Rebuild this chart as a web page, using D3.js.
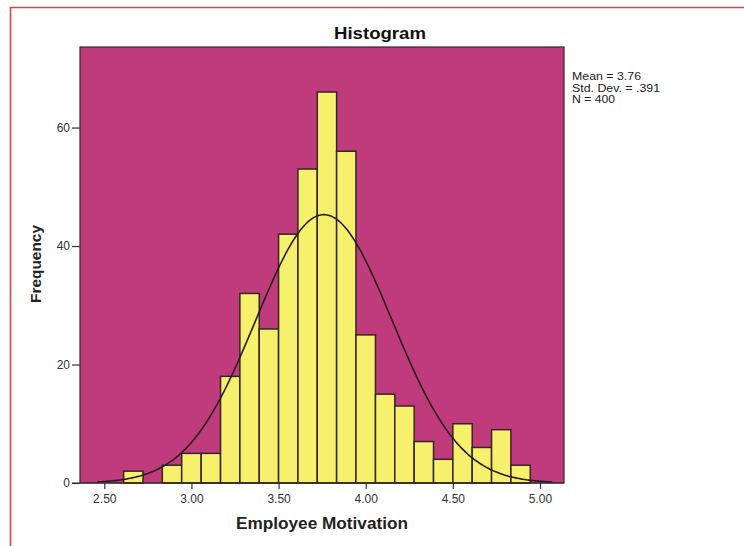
<!DOCTYPE html>
<html>
<head>
<meta charset="utf-8">
<script src="https://cdn.jsdelivr.net/npm/d3@7"></script>
<style>
  html, body { margin: 0; padding: 0; background: #ffffff; }
  svg { display: block; font-family: "Liberation Sans", Arial, sans-serif; }
</style>
</head>
<body>
<svg id="chart" width="744" height="546"></svg>
<script>
// ---- data ----
const binEdges = [2.611, 2.722, 2.833, 2.944, 3.056, 3.167, 3.278, 3.389, 3.500, 3.611, 3.722,
                  3.833, 3.944, 4.056, 4.167, 4.278, 4.389, 4.500, 4.611, 4.722, 4.833, 4.944];
const frequencies = [2, 0, 3, 5, 5, 18, 32, 26, 42, 53, 66, 56, 25, 15, 13, 7, 4, 10, 6, 9, 3];
const xTicks = [2.5, 3.0, 3.5, 4.0, 4.5, 5.0];
const yTicks = [0, 20, 40, 60];
const statMean = 3.76;
const statSD = 0.391;
const statN = 400;
const statLines = ["Mean = 3.76", "Std. Dev. = .391", "N = 400"];
const statWidths = [69, 88, 43];
const curveRange = [2.46, 5.07];

// ---- layout ----
const svg = d3.select("#chart");
const plot = { left: 80, right: 564, top: 47, bottom: 483 };

const x = d3.scaleLinear().domain([2.3606, 5.1377]).range([plot.left, plot.right]);
const y = d3.scaleLinear().domain([0, 73.6]).range([plot.bottom, plot.top]);

// outer red frame (cropped)
svg.append("path")
  .attr("d", `M10.5,546 L10.5,7.5 L744,7.5`)
  .attr("fill", "none")
  .attr("stroke", "#d2474c")
  .attr("stroke-width", 1.6);

// plot background
svg.append("rect")
  .attr("x", plot.left).attr("y", plot.top)
  .attr("width", plot.right - plot.left).attr("height", plot.bottom - plot.top)
  .attr("fill", "#c03b7b");

// bars
const bins = frequencies.map((f, i) => ({ x0: binEdges[i], x1: binEdges[i + 1], f }));
svg.append("g").selectAll("rect")
  .data(bins.filter(d => d.f > 0))
  .join("rect")
  .attr("x", d => x(d.x0))
  .attr("y", d => y(d.f))
  .attr("width", d => x(d.x1) - x(d.x0))
  .attr("height", d => y(0) - y(d.f))
  .attr("fill", "#f6f06c")
  .attr("stroke", "#33252a")
  .attr("stroke-width", 1.5);

// normal curve from the reported statistics
const binWidth = binEdges[1] - binEdges[0];
const pdf = v => Math.exp(-0.5 * Math.pow((v - statMean) / statSD, 2)) / (statSD * Math.sqrt(2 * Math.PI));
const curvePts = d3.range(curveRange[0], curveRange[1] + 1e-9, 0.01).map(v => [v, statN * binWidth * pdf(v)]);
svg.append("path")
  .datum(curvePts)
  .attr("fill", "none")
  .attr("stroke", "#2a1a1e")
  .attr("stroke-width", 1.6)
  .attr("d", d3.line().x(d => x(d[0])).y(d => y(d[1])).curve(d3.curveBasis));

// plot frame
svg.append("rect")
  .attr("x", plot.left).attr("y", plot.top)
  .attr("width", plot.right - plot.left).attr("height", plot.bottom - plot.top)
  .attr("fill", "none")
  .attr("stroke", "#2e2a2c")
  .attr("stroke-width", 1.2);

// axes
const xAxis = svg.append("g")
  .attr("transform", `translate(0,${plot.bottom})`)
  .call(d3.axisBottom(x).tickValues(xTicks).tickFormat(d3.format(".2f")).tickSize(6).tickPadding(5));
const yAxis = svg.append("g")
  .attr("transform", `translate(${plot.left},0)`)
  .call(d3.axisLeft(y).tickValues(yTicks).tickSize(8).tickPadding(2));
[xAxis, yAxis].forEach(g => {
  g.select(".domain").remove();
  g.selectAll(".tick line").attr("stroke", "#333").attr("stroke-width", 1.2);
  g.selectAll(".tick text").attr("fill", "#333").style("font-size", "12px")
    .style("font-family", "'Liberation Sans', Arial, sans-serif");
});
// bottom baseline extending to the 0 tick
svg.append("line")
  .attr("x1", plot.left - 8).attr("x2", plot.right)
  .attr("y1", plot.bottom).attr("y2", plot.bottom)
  .attr("stroke", "#2e2a2c").attr("stroke-width", 1.2);

// title
svg.append("text")
  .attr("x", 380).attr("y", 39)
  .attr("text-anchor", "middle")
  .attr("font-weight", "bold")
  .attr("font-size", 17)
  .attr("textLength", 92).attr("lengthAdjust", "spacingAndGlyphs")
  .attr("fill", "#111")
  .text("Histogram");

// x axis title
svg.append("text")
  .attr("x", 322).attr("y", 529)
  .attr("text-anchor", "middle")
  .attr("font-weight", "bold")
  .attr("font-size", 16)
  .attr("textLength", 172).attr("lengthAdjust", "spacingAndGlyphs")
  .attr("fill", "#222")
  .text("Employee Motivation");

// y axis title
svg.append("text")
  .attr("transform", "translate(41,264) rotate(-90)")
  .attr("text-anchor", "middle")
  .attr("font-weight", "bold")
  .attr("font-size", 15)
  .attr("textLength", 78).attr("lengthAdjust", "spacingAndGlyphs")
  .attr("fill", "#222")
  .text("Frequency");

// statistics legend
svg.append("g").selectAll("text")
  .data(statLines)
  .join("text")
  .attr("x", 572)
  .attr("y", (d, i) => 80 + i * 11.7)
  .attr("font-size", 10.5)
  .attr("textLength", (d, i) => statWidths[i]).attr("lengthAdjust", "spacingAndGlyphs")
  .attr("fill", "#222")
  .text(d => d);
</script>
</body>
</html>
